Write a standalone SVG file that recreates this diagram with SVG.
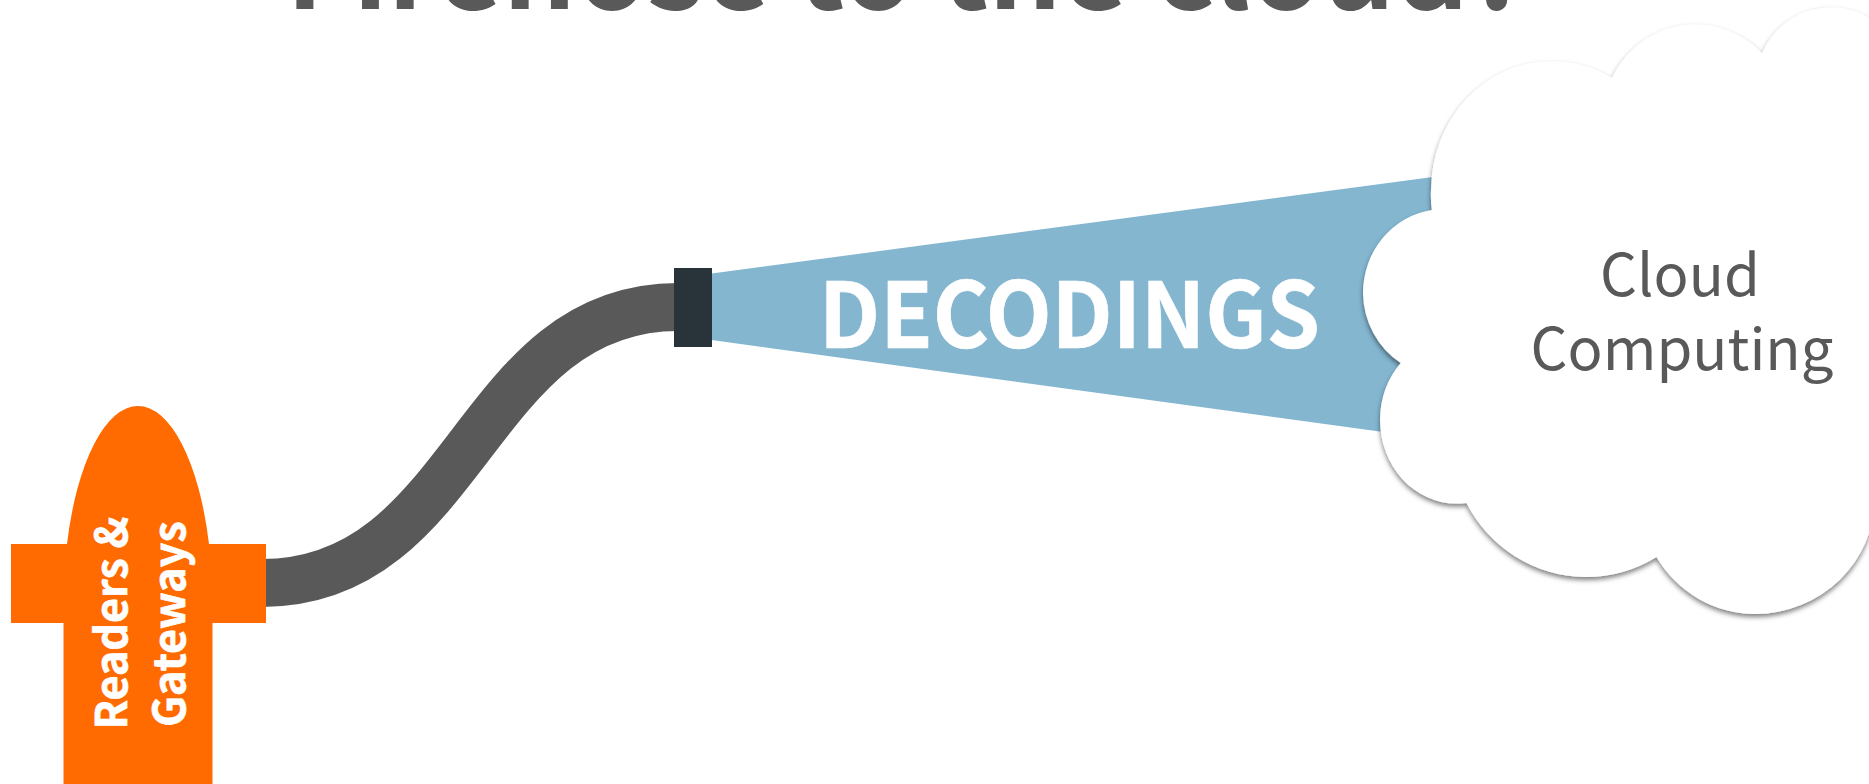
<svg xmlns="http://www.w3.org/2000/svg" width="1869" height="784" viewBox="0 0 1869 784">
  <defs>
    <style>
      .t { font-family: "Noto Sans CJK SC", "Source Sans Pro", "Noto Sans", sans-serif; }
      .b { font-weight: 700; }
      .white { fill: #ffffff; stroke: #ffffff; stroke-width: 0.7; }
      .grey { fill: #595959; }
    </style>
    <filter id="shadow" x="-10%" y="-10%" width="120%" height="120%">
      <feDropShadow dx="0" dy="3" stdDeviation="2.5" flood-color="#000000" flood-opacity="0.5"/>
    </filter>
  </defs>
  <rect width="1869" height="784" fill="#ffffff"/>
  <text id="title" class="t b grey" x="286" y="9" font-size="114.5">Firehose to the cloud?</text>
  <g id="connectors">
    <path d="M262 583 C468 583 473 307 678 307" fill="none" stroke="#595959" stroke-width="48"/>
    <polygon points="708,274 1500,168 1500,448 708,339.5" fill="#84b6d0"/>
  </g>
  <g id="readers">
    <path d="M63.5 784 V623 H11 V544 H67 A74.5 198 0 0 1 209 544 H266 V623 H212.5 V784 Z" fill="#ff6b00"/>
    <g transform="translate(127 623) rotate(-90)"><text class="t b white" text-anchor="middle" font-size="43">Readers &amp;</text></g>
    <g transform="translate(185 624) rotate(-90)"><text class="t b white" text-anchor="middle" font-size="43">Gateways</text></g>
  </g>
  <g id="coupler"><rect x="674" y="268" width="38" height="79" fill="#29343a"/></g>
  <g id="decodings"><text class="t b white" x="819" y="347.5" font-size="91" textLength="501" lengthAdjust="spacingAndGlyphs">DECODINGS</text></g>
  <g id="cloud">
    <path filter="url(#shadow)" fill="#ffffff" d="M1431.8 210 Q1430.5 200 1431 190 A120 129 0 0 1 1551 61.4 A120 129 0 0 1 1612 78 A92 92 0 0 1 1694 24.6 A92 92 0 0 1 1762 53 A75 75 0 0 1 1831 7.4 A75 75 0 0 1 1906 82 L1906 497 L1875 497 A120 117 0 0 1 1755 614 A115 117 0 0 1 1656.5 557 A135 135 0 0 1 1584.6 577 A135 135 0 0 1 1466.5 503 Q1461 503.5 1456 503.5 A76 84 0 0 1 1380 419.5 A76 84 0 0 1 1400.7 363 A80 84 0 0 1 1363 293.5 A80 84 0 0 1 1431.8 210 Z"/>
    <text class="t grey" x="1680" y="296" text-anchor="middle" font-size="58">Cloud</text>
    <text class="t grey" x="1682" y="369.6" text-anchor="middle" font-size="58">Computing</text>
  </g>
</svg>
